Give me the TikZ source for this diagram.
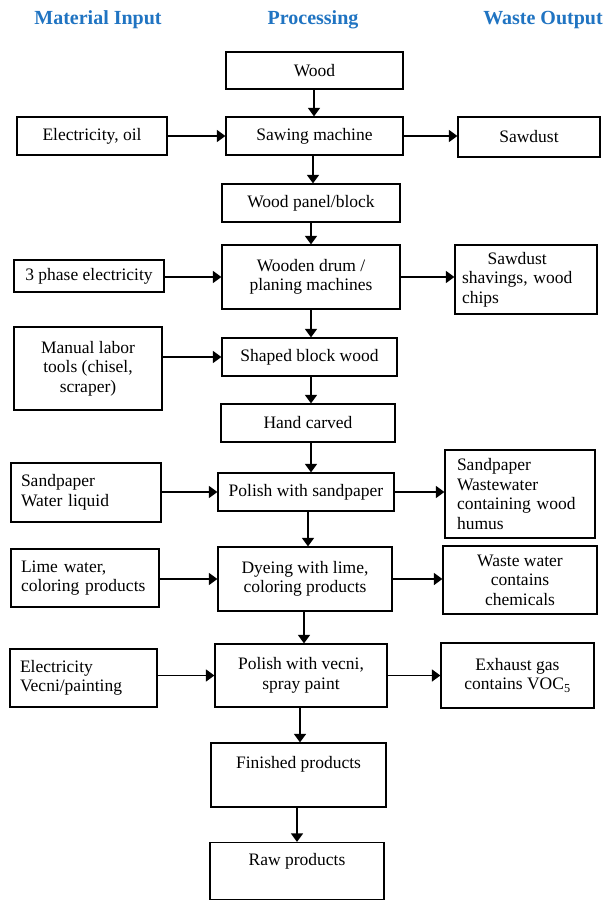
\documentclass[tikz,border=0pt]{standalone}
\usepackage{fontspec}
\usepackage{calc}
\setmainfont{Liberation Serif}
\usetikzlibrary{arrows.meta}
\definecolor{headblue}{RGB}{32,116,194}
\begin{document}
\begin{tikzpicture}[x=1pt,y=-1pt,
  box/.style={draw, line width=1.2pt, inner sep=3pt, align=center, font=\fontsize{17.5}{19.5}\selectfont},
  lbox/.style={box, align=left, inner xsep=10pt},
  head/.style={font=\fontsize{20}{24}\selectfont\bfseries, text=headblue},
  arr/.style={line width=1.4pt, -{Triangle[length=8.5pt,width=12pt]}}]
\useasboundingbox (0,0) rectangle (602,901);
\fill[white] (0,0) rectangle (602,901);

% headings
\node[head] (h1) at (98,20) {Material Input};
\node[head] (h2) at (313,20) {Processing};
\node[head] (h3) at (543,20) {Waste Output};

% processing column
\node[box, minimum width=177, minimum height=37] (wood) at (314.5,70.5) {Wood};
\node[box, minimum width=177, minimum height=38] (saw) at (314.5,136) {Sawing machine};
\node[box, minimum width=178, minimum height=38] (panel) at (311,203) {Wood panel/block};
\node[box, minimum width=178, minimum height=64] (drum) at (311,277) {Wooden drum /\\planing machines};
\node[box, minimum width=175, minimum height=38] (shaped) at (309.5,357) {Shaped block wood};
\node[box, minimum width=174, minimum height=38] (hand) at (308,423) {Hand carved};
\node[box, minimum width=176, minimum height=38] (pol1) at (306,492) {Polish with sandpaper};
\node[box, minimum width=174, minimum height=64] (dye) at (305,579) {Dyeing with lime,\\coloring products};
\node[box, minimum width=172, minimum height=63] (polv) at (301,675.5) {Polish with vecni,\\spray paint};
\node[box, minimum width=175, minimum height=64] (fin) at (298.5,775) {Finished products\\[6pt]\mbox{}};
\node[box, minimum width=174, minimum height=57] (raw) at (297,871) {Raw products\\[4pt]\mbox{}};

% input column
\node[box, minimum width=150, minimum height=38] (elec) at (92,136) {Electricity, oil};
\node[box, minimum width=150, minimum height=32] (ph3) at (89,276) {3 phase electricity};
\node[box, minimum width=148, minimum height=83] (manual) at (88,368.5) {Manual labor\\tools (chisel,\\scraper)};
\node[lbox, text width=130, minimum height=59] (sandw) at (86,492.5) {Sandpaper\\Water liquid};
\node[lbox, text width=128, minimum height=58] (lime) at (85,578) {Lime water,\\coloring products};
\node[lbox, text width=127, minimum height=58] (elecv) at (83.5,678) {Electricity\\Vecni/painting};

% output column
\node[box, minimum width=142, minimum height=40] (sawdust) at (529,137) {Sawdust};
\node[lbox, text width=128, inner xsep=7pt, minimum height=69] (shav) at (526,279.5)
  {\makebox[\widthof{shavings, wood}][c]{Sawdust}\\shavings, wood\\chips};
\node[lbox, text width=126, inner xsep=12pt, minimum height=88] (wastew) at (520,494) {Sandpaper\\Wastewater\\containing wood\\humus};
\node[box, minimum width=154, minimum height=68] (chem) at (520,580) {Waste water\\contains\\chemicals};
\node[box, minimum width=153, minimum height=65] (exh) at (517.5,675.5) {Exhaust gas\\contains VOC\textsubscript{5}};

% vertical flow
\draw[arr] ([xshift=-0.5]wood.south) coordinate (t1) -- (t1 |- saw.north);
\draw[arr] ([xshift=-1.5]saw.south) coordinate (t2) -- (t2 |- panel.north);
\draw[arr] (panel.south) coordinate (t3) -- (t3 |- drum.north);
\draw[arr] (drum.south) coordinate (t4) -- (t4 |- shaped.north);
\draw[arr] ([xshift=1.5]shaped.south) coordinate (t5) -- (t5 |- hand.north);
\draw[arr] ([xshift=3]hand.south) coordinate (t6) -- (t6 |- pol1.north);
\draw[arr] ([xshift=2]pol1.south) coordinate (t7) -- (t7 |- dye.north);
\draw[arr] ([xshift=-1]dye.south) coordinate (t8) -- (t8 |- polv.north);
\draw[arr] ([xshift=-1]polv.south) coordinate (t9) -- (t9 |- fin.north);
\draw[arr] ([xshift=-1.5]fin.south) coordinate (t10) -- (t10 |- raw.north);

% inputs
\draw[arr] (elec.east |- saw.west) -- (saw.west);
\draw[arr] (ph3.east |- drum.west) -- (drum.west);
\draw[arr] (manual.east |- shaped.west) -- (shaped.west);
\draw[arr] (sandw.east |- pol1.west) -- (pol1.west);
\draw[arr] (lime.east |- dye.west) -- (dye.west);
\draw[arr] (elecv.east |- polv.west) -- (polv.west);

% outputs
\draw[arr] (saw.east) -- (sawdust.west |- saw.east);
\draw[arr] (drum.east) -- (shav.west |- drum.east);
\draw[arr] (pol1.east) -- (wastew.west |- pol1.east);
\draw[arr] (dye.east) -- (chem.west |- dye.east);
\draw[arr] (polv.east) -- (exh.west |- polv.east);
\end{tikzpicture}
\end{document}
